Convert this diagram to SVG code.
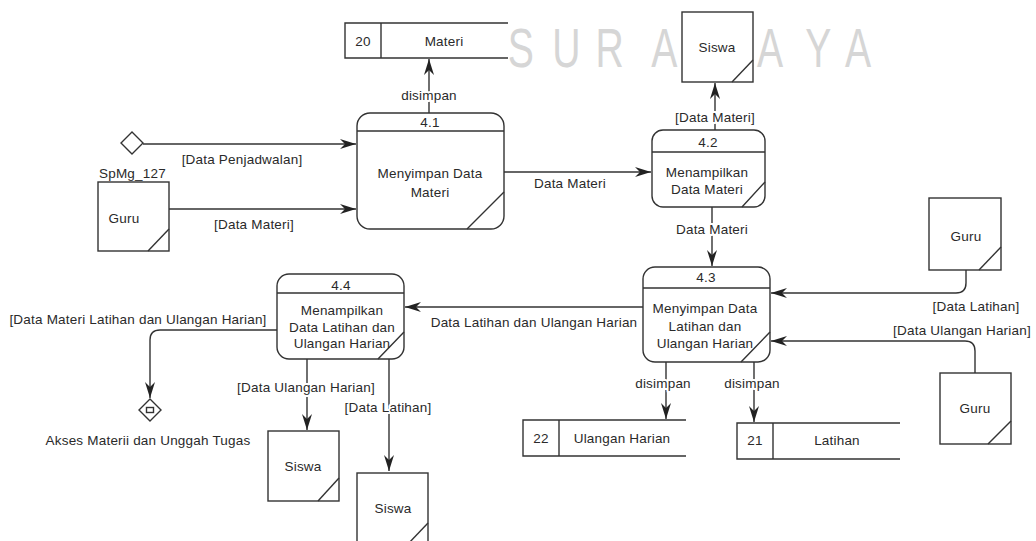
<svg xmlns="http://www.w3.org/2000/svg" width="1036" height="541" viewBox="0 0 1036 541">
<defs>
<style>
text{font-family:"Liberation Sans",Arial,sans-serif;font-size:13.5px;letter-spacing:0.2px;fill:#2a2a2a;text-anchor:middle}
.sh{fill:#fff;stroke:#333;stroke-width:1.4}
.ln{fill:none;stroke:#333;stroke-width:1.4}
.c{fill:none;stroke:#333;stroke-width:1.4;marker-end:url(#ah)}
.lb{stroke:#fff;stroke-width:4;paint-order:stroke;stroke-linejoin:round}
.wm{font-size:56px;letter-spacing:0;fill:#d6d6d6;text-anchor:middle}
</style>
<marker id="ah" markerUnits="userSpaceOnUse" markerWidth="20" markerHeight="14" viewBox="-17 -7 18 14" refX="0" refY="0" orient="auto">
<path d="M0,0 L-16,-5 L-11,0 L-16,5 Z" fill="#222"/>
</marker>
</defs>
<rect width="1036" height="541" fill="#fff"/>
<text class="wm" transform="scale(0.7,1)" x="744 809 871 949" y="67">SURA</text>
<text class="wm" transform="scale(0.7,1)" x="1100 1169 1226" y="67">AYA</text>

<g id="connectors">
<path class="c" d="M429,113 V59"/>
<path class="c" d="M143,144 H356"/>
<path class="c" d="M169,209 H356"/>
<path class="c" d="M504,172 H651"/>
<path class="c" d="M715,130 V83"/>
<path class="c" d="M712,207 V266"/>
<path class="c" d="M966,270 V283 Q966,293 956,293 H771"/>
<path class="c" d="M975,373 V351 Q975,341 965,341 H771"/>
<path class="c" d="M643,307 H405"/>
<path class="c" d="M666,362 V419"/>
<path class="c" d="M754,362 V422"/>
<path class="c" d="M277,330 H160 Q150,330 150,340 V398"/>
<path class="c" d="M307,359 V430"/>
<path class="c" d="M389,359 V471"/>
<text class="lb" x="429" y="99.5">disimpan</text>
<text x="242" y="163.5">[Data Penjadwalan]</text>
<text x="254" y="228.5">[Data Materi]</text>
<text x="570" y="187.5">Data Materi</text>
<text class="lb" x="715" y="121.5">[Data Materi]</text>
<text class="lb" x="712" y="233.5">Data Materi</text>
<text x="976" y="310.5">[Data Latihan]</text>
<text x="962" y="334.5">[Data Ulangan Harian]</text>
<text x="534" y="326.5">Data Latihan dan Ulangan Harian</text>
<text class="lb" x="663" y="387.5">disimpan</text>
<text class="lb" x="752" y="387.5">disimpan</text>
<text x="138" y="323.5">[Data Materi Latihan dan Ulangan Harian]</text>
<text class="lb" x="306" y="391.5">[Data Ulangan Harian]</text>
<text class="lb" x="388" y="411.5">[Data Latihan]</text>
</g>

<g id="store-20">
<path class="ln" d="M508,23 H345 V58 H508 M381,23 V58"/>
<text x="363" y="45.5">20</text>
<text x="444" y="45.5">Materi</text>
</g>

<g id="store-22">
<path class="ln" d="M686,420 H523 V456 H686 M559,420 V456"/>
<text x="541" y="442.5">22</text>
<text x="622" y="442.5">Ulangan Harian</text>
</g>

<g id="store-21">
<path class="ln" d="M900,423 H737 V459 H900 M773,423 V459"/>
<text x="755" y="444.5">21</text>
<text x="837" y="444.5">Latihan</text>
</g>

<g id="p41">
<rect class="sh" x="357" y="113" width="147" height="116" rx="13"/>
<path class="ln" d="M357,131 H504 M467,229 L504,192"/>
<text x="430" y="126.5">4.1</text>
<text x="430" y="177.5">Menyimpan Data</text>
<text x="430" y="196.5">Materi</text>
</g>

<g id="p42">
<rect class="sh" x="652" y="130" width="113" height="77" rx="11"/>
<path class="ln" d="M652,152 H765 M742,207 L765,182"/>
<text x="708" y="146.5">4.2</text>
<text x="707" y="176.5">Menampilkan</text>
<text x="707" y="193.5">Data Materi</text>
</g>

<g id="p43">
<rect class="sh" x="643" y="267" width="127" height="95" rx="12"/>
<path class="ln" d="M643,288 H770 M741,362 L770,332"/>
<text x="706" y="281.5">4.3</text>
<text x="705" y="312.5">Menyimpan Data</text>
<text x="705" y="330.5">Latihan dan</text>
<text x="705" y="347.5">Ulangan Harian</text>
</g>

<g id="p44">
<rect class="sh" x="277" y="274" width="127" height="85" rx="12"/>
<path class="ln" d="M277,293 H404 M378,359 L404,332"/>
<text x="341" y="289.5">4.4</text>
<text x="342" y="314.5">Menampilkan</text>
<text x="342" y="331.5">Data Latihan dan</text>
<text x="342" y="347.5">Ulangan Harian</text>
</g>

<g id="guru-spmg">
<text x="99" y="178" style="text-anchor:start">SpMg_127</text>
<rect class="sh" x="98" y="182" width="71" height="69"/>
<path class="ln" d="M148,251 L169,229"/>
<text x="124" y="222.5">Guru</text>
</g>

<g id="guru-2">
<rect class="sh" x="929" y="198" width="72" height="72"/>
<path class="ln" d="M979,270 L1001,247"/>
<text x="966" y="240.5">Guru</text>
</g>

<g id="guru-3">
<rect class="sh" x="940" y="373" width="71" height="71"/>
<path class="ln" d="M988,444 L1011,421"/>
<text x="975" y="412.5">Guru</text>
</g>

<g id="siswa-1">
<rect class="sh" x="682" y="12" width="71" height="70"/>
<path class="ln" d="M732,82 L753,60"/>
<text x="717" y="51.5">Siswa</text>
</g>

<g id="siswa-2">
<rect class="sh" x="268" y="431" width="71" height="70"/>
<path class="ln" d="M318,501 L339,478"/>
<text x="303" y="470.5">Siswa</text>
</g>

<g id="siswa-3">
<rect class="sh" x="357" y="473" width="71" height="72"/>
<path class="ln" d="M407,545 L428,523"/>
<text x="393" y="512.5">Siswa</text>
</g>

<g id="diamond-in">
<path class="sh" d="M132,132 L143,143 L132,154 L121,143 Z"/>
</g>

<g id="diamond-out">
<path class="sh" d="M150,399 L161,410 L150,421 L139,410 Z"/>
<rect class="ln" x="146.5" y="407.5" width="7" height="5"/>
<text x="148" y="444.5">Akses Materii dan Unggah Tugas</text>
</g>
</svg>
